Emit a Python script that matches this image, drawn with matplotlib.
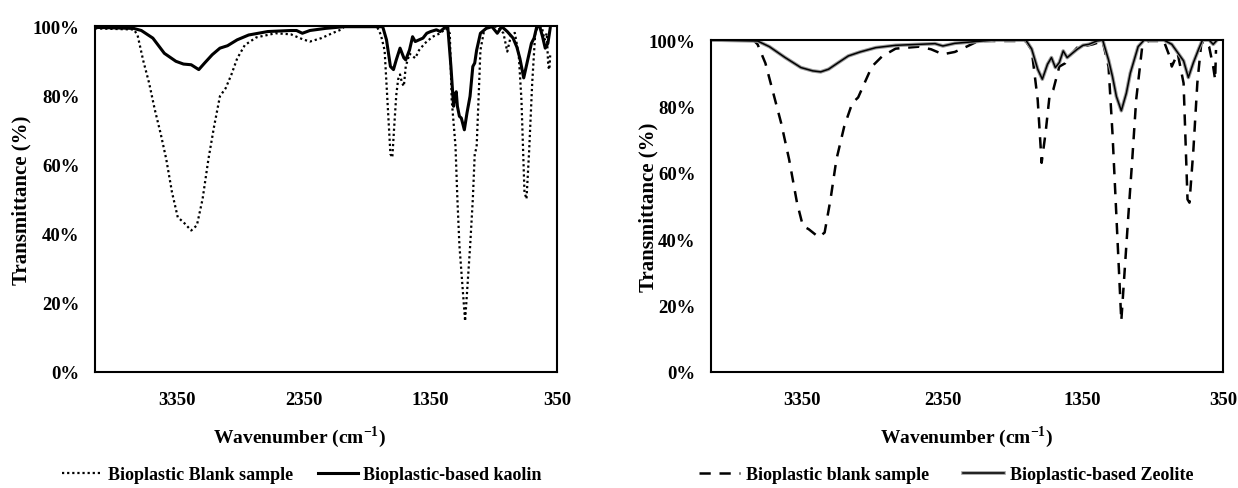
import matplotlib
matplotlib.use("Agg")
import matplotlib.pyplot as plt
import matplotlib.patheffects as pe
from matplotlib.ticker import FuncFormatter

plt.rcParams['font.family'] = ['Liberation Serif', 'DejaVu Serif']
plt.rcParams['font.weight'] = 'bold'
plt.rcParams['mathtext.fontset'] = 'custom'
plt.rcParams['mathtext.rm'] = 'Liberation Serif:bold'
plt.rcParams['mathtext.bf'] = 'Liberation Serif:bold'
plt.rcParams['axes.unicode_minus'] = False

# ---- data (wavenumber cm-1, transmittance %) ----
kblank_wn = [4000, 3694, 3664, 3619, 3573, 3528, 3482, 3437, 3392, 3346, 3301, 3240, 3195, 3150,
             3104, 3059, 3013, 2968, 2922, 2877, 2816, 2726, 2574, 2453, 2362, 2302, 2211, 2120,
             2060, 2030, 1772, 1742, 1712, 1690, 1666, 1651, 1636, 1620, 1605, 1590, 1575, 1560,
             1545, 1515, 1470, 1440, 1394, 1333, 1273, 1228, 1197, 1182, 1152, 1137, 1121, 1076,
             1036, 1015, 1000, 985, 970, 955, 925, 879, 819, 773, 743, 713, 683, 652, 631, 607,
             591, 570, 546, 522, 500, 470, 449, 431, 419, 410, 404]
kblank_t = [99.3, 99.0, 97.4, 90.0, 83.6, 75.9, 69.0, 61.5, 52.0, 44.7, 43.3, 40.9, 42.4, 50.0,
            61.5, 71.0, 79.7, 82.0, 86.0, 90.6, 94.5, 96.7, 97.9, 97.6, 96.2, 95.5, 96.5, 98.0,
            98.9, 99.8, 99.8, 97.5, 93.0, 78.7, 63.0, 62.0, 71.0, 80.0, 84.6, 86.0, 83.6, 82.6,
            88.3, 92.0, 90.7, 93.0, 95.0, 96.9, 97.9, 99.3, 97.9, 78.7, 65.3, 50.0, 36.6, 14.7,
            36.6, 50.0, 63.0, 65.0, 78.7, 93.0, 98.9, 99.8, 99.8, 97.9, 92.6, 97.4, 98.0, 91.5, 78.7, 52.0,
            50.0, 64.0, 83.5, 97.9, 99.8, 99.8, 96.0, 97.9, 88.3, 87.4, 91.5]

kaolin_wn = [4000, 3694, 3634, 3543, 3452, 3361, 3301, 3240, 3180, 3134, 3074, 3013, 2953, 2877,
             2786, 2635, 2453, 2408, 2362, 2302, 2181, 2030, 1727, 1697, 1666, 1642, 1620, 1590,
             1560, 1545, 1515, 1491, 1470, 1440, 1409, 1379, 1348, 1303, 1273, 1228, 1213, 1188,
             1167, 1157, 1146, 1137, 1121, 1106, 1082, 1061, 1037, 1015, 1000, 985, 955, 910, 864,
             822, 786, 743, 697, 667, 643, 613, 582, 552, 531, 510, 486, 464, 443, 422, 404]
kaolin_t = [99.6, 99.3, 98.7, 96.5, 92.1, 89.8, 89.0, 88.8, 87.4, 89.3, 91.7, 93.6, 94.3, 96.0,
            97.4, 98.4, 98.7, 98.7, 97.9, 98.7, 99.3, 99.8, 99.8, 96.0, 88.3, 87.4, 90.2, 93.6,
            90.8, 90.2, 93.1, 96.9, 95.5, 96.0, 96.5, 97.9, 98.4, 98.9, 98.4, 99.8, 99.8, 88.3,
            76.8, 80.0, 81.0, 76.8, 73.9, 73.4, 70.0, 74.9, 79.7, 88.3, 89.3, 93.0, 97.9, 99.3, 99.8,
            97.9, 99.8, 98.4, 96.5, 93.9, 90.6, 85.0, 90.1, 95.0, 96.5, 99.8, 99.8, 96.9, 93.6, 95.0, 99.3]

zblank_wn = [4000, 3696, 3668, 3612, 3556, 3500, 3443, 3387, 3345, 3303, 3232, 3190, 3148, 3106,
             3050, 2993, 2951, 2909, 2853, 2782, 2684, 2515, 2431, 2347, 2262, 2178, 2094, 1756,
             1714, 1671, 1643, 1615, 1587, 1560, 1517, 1475, 1447, 1390, 1278, 1208, 1166, 1138,
             1110, 1075, 1025, 997, 969, 926, 884, 772, 730, 715, 673, 631, 603, 589, 561, 533,
             505, 477, 449, 420, 406, 400]
zblank_t = [100.0, 99.9, 98.7, 93.0, 84.0, 75.0, 64.0, 51.0, 44.0, 43.0, 40.6, 42.0, 52.0, 64.0,
            74.0, 81.0, 82.7, 86.7, 92.0, 95.0, 97.4, 98.0, 97.2, 95.7, 96.4, 98.0, 99.7, 99.7,
            97.0, 82.0, 63.0, 72.0, 83.0, 85.0, 92.0, 93.0, 95.0, 97.7, 98.7, 99.7, 92.0, 72.0,
            47.0, 15.4, 47.0, 64.0, 82.0, 98.0, 99.7, 99.7, 95.0, 92.0, 96.0, 87.0, 52.0, 51.0, 67.0, 87.0,
            99.0, 99.7, 98.0, 92.0, 88.0, 97.0]

zeo_wn = [4000, 3668, 3584, 3471, 3359, 3275, 3218, 3162, 3092, 3021, 2937, 2825, 2684, 2515,
          2403, 2347, 2262, 2122, 1981, 1756, 1714, 1671, 1638, 1601, 1573, 1545, 1517, 1489,
          1461, 1433, 1390, 1348, 1306, 1250, 1208, 1166, 1138, 1110, 1075, 1039, 1011, 983, 955,
          912, 772, 715, 673, 631, 597, 561, 524, 496, 449, 420, 392]
zeo_t = [100.0, 99.7, 98.0, 94.7, 91.7, 90.7, 90.4, 91.2, 93.2, 95.2, 96.4, 97.7, 98.4, 98.7,
         98.9, 98.2, 99.0, 99.5, 100.0, 100.0, 97.3, 91.2, 88.2, 92.7, 94.7, 91.7, 93.2, 96.7,
         94.7, 95.7, 97.2, 98.4, 98.7, 99.7, 100.0, 94.0, 89.0, 83.0, 78.7, 84.0, 90.0, 94.0, 98.0,
         100.0, 100.0, 98.7, 96.2, 93.7, 88.7, 93.2, 97.2, 100.0, 100.0, 98.7, 100.0]

xticks = [3350, 2350, 1350, 350]
yticks = [0, 20, 40, 60, 80, 100]

W, H = 1238, 489
fig = plt.figure(figsize=(W / 100, H / 100), dpi=100)


def px_axes(x0, y0, x1, y1):
    return fig.add_axes([x0 / W, 1 - y1 / H, (x1 - x0) / W, (y1 - y0) / H])


def style(ax):
    ax.set_xlim(4000, 350)
    ax.set_ylim(0, 100)
    ax.set_xticks(xticks)
    ax.set_yticks(yticks)
    ax.yaxis.set_major_formatter(FuncFormatter(lambda v, p: '%d%%' % v))
    ax.tick_params(length=0, labelsize=13.5)
    ax.tick_params(axis='x', pad=14)
    ax.tick_params(axis='y', pad=11)
    for s in ax.spines.values():
        s.set_linewidth(1.5)
        s.set_color('black')


ax1 = px_axes(95, 27, 557, 373)
l1, = ax1.plot(kblank_wn, kblank_t, color='black', lw=1.6, linestyle=(0, (1, 1.3)),
               label='Bioplastic Blank sample')
l2, = ax1.plot(kaolin_wn, kaolin_t, color='black', lw=2.2, label='Bioplastic-based kaolin')
style(ax1)

ax2 = px_axes(711, 41, 1223, 373)
l3, = ax2.plot(zblank_wn, zblank_t, color='black', lw=1.8, linestyle=(0, (4.5, 3.5)),
               label='Bioplastic blank sample')
l4, = ax2.plot(zeo_wn, zeo_t, color='black', lw=1.1, label='Bioplastic-based Zeolite',
               path_effects=[pe.Stroke(linewidth=2.6, foreground='#9a9a9a'), pe.Normal()])
style(ax2)

for xc, yc in [(21, 200), (648, 207)]:
    fig.text(xc / W, 1 - yc / H, 'Transmittance (%)', rotation=90, ha='center', va='center',
             fontsize=15, fontweight='bold')
for xc in [300, 967]:
    fig.text(xc / W, 1 - 437 / H, r'Wavenumber (cm$^{\mathbf{-1}}$)', ha='center', va='center',
             fontsize=14, fontweight='bold')

fig.legend(handles=[l1, l2], loc='center', bbox_to_anchor=(302 / W, 1 - 476 / H), ncol=2,
           frameon=False, fontsize=13, handlelength=2.2, handletextpad=0.3, columnspacing=1.4,
           borderpad=0, borderaxespad=0)
fig.legend(handles=[l3, l4], loc='center', bbox_to_anchor=(946 / W, 1 - 476 / H), ncol=2,
           frameon=False, fontsize=13, handlelength=2.3, handletextpad=0.3, columnspacing=1.9,
           borderpad=0, borderaxespad=0)

fig.savefig('out.png', dpi=100)
